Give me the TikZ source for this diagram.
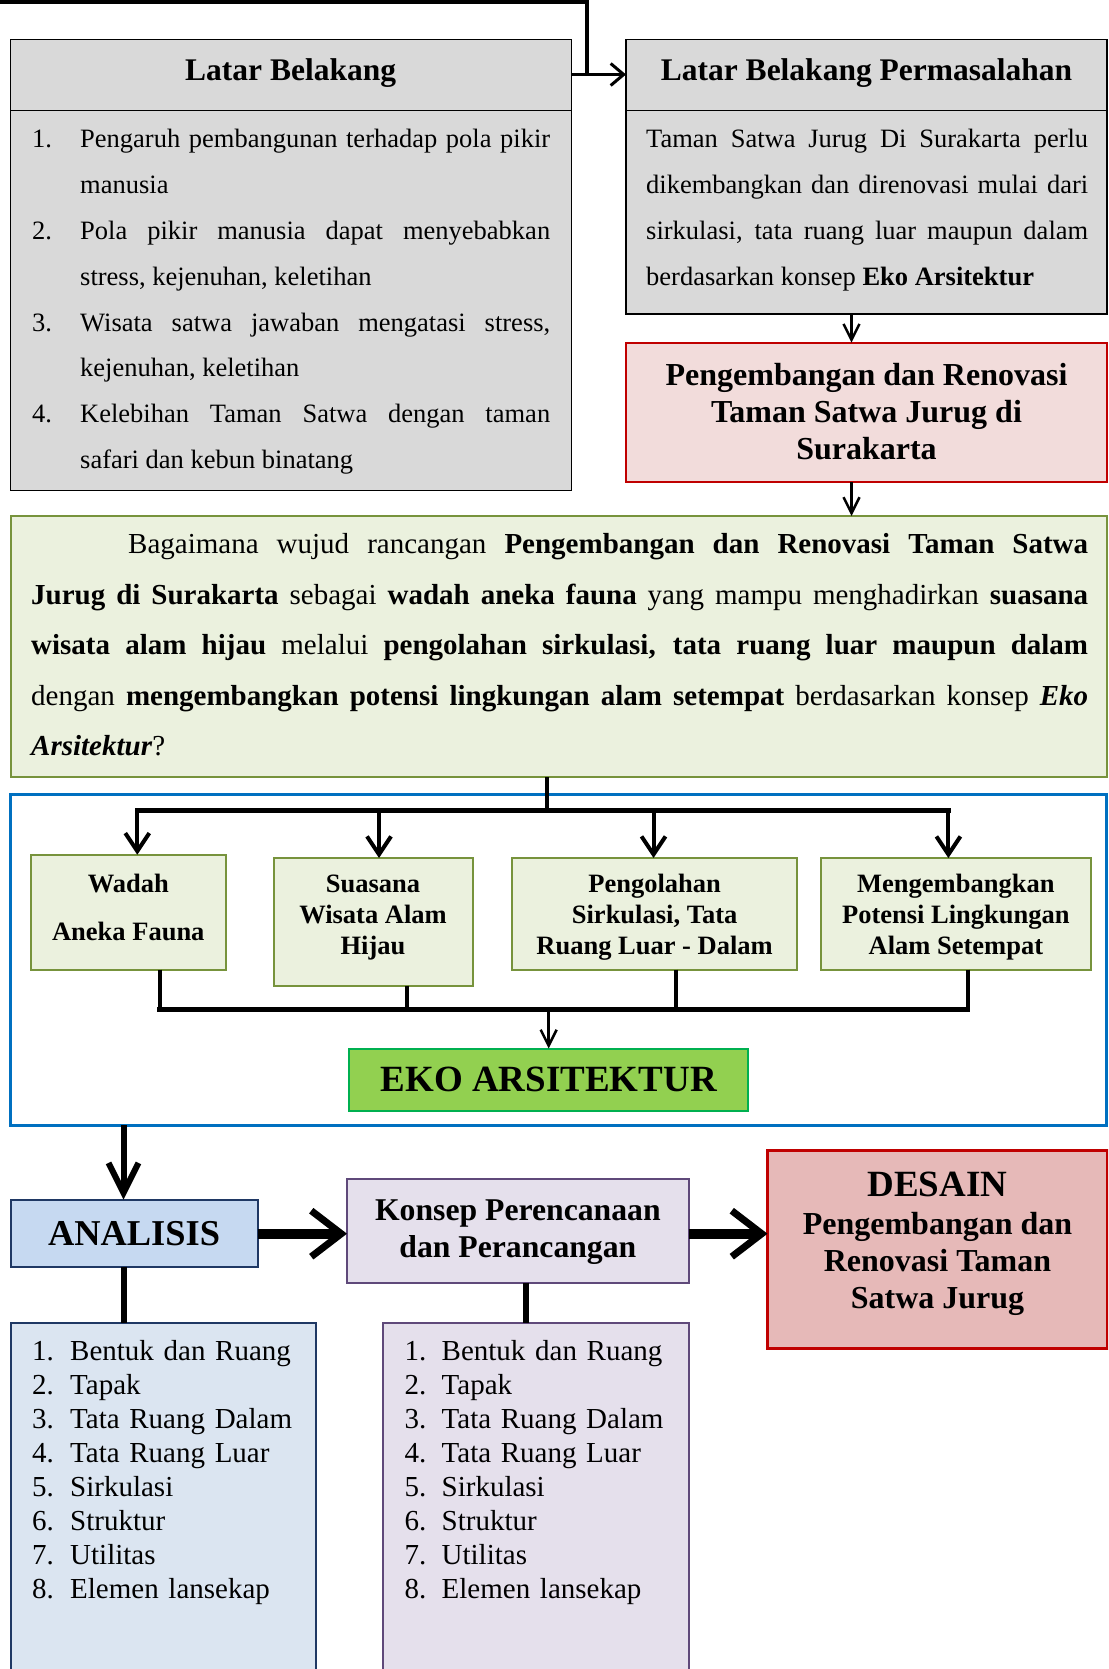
\documentclass[tikz,border=0pt]{standalone}
\usepackage{fontspec}
\setmainfont{Liberation Serif}
\usetikzlibrary{arrows.meta}
\definecolor{gfill}{HTML}{D9D9D9}
\definecolor{pfill}{HTML}{F2DCDB}
\definecolor{redb}{HTML}{C00000}
\definecolor{lgreen}{HTML}{EBF1DE}
\definecolor{oliveb}{HTML}{77933C}
\definecolor{frameblue}{HTML}{0070C0}
\definecolor{ekofill}{HTML}{92D050}
\definecolor{ekob}{HTML}{00B050}
\definecolor{anafill}{HTML}{C6D9F1}
\definecolor{anab}{HTML}{1F3864}
\definecolor{alfill}{HTML}{DBE5F1}
\definecolor{konfill}{HTML}{E5E0EC}
\definecolor{konb}{HTML}{5F497A}
\definecolor{desfill}{HTML}{E6B9B8}
\begin{document}
\begin{tikzpicture}[x=1pt,y=-1pt,
  box/.style={draw, inner sep=0pt, outer sep=0pt, anchor=north west, align=center},
  para/.style={anchor=base west, inner sep=0pt, align=justify},
  arr/.style={line width=3pt, -{Straight Barb[length=13pt,width=22pt]}},
  busarr/.style={line width=4pt, -{Straight Barb[length=18pt,width=24pt]}},
  thinarr/.style={line width=2.5pt, -{Straight Barb[length=16pt,width=16pt]}},
  bus/.style={line width=5pt, line cap=rect},
  stem/.style={line width=6pt},
  bigarr/.style={line width=10pt, -{Straight Barb[length=30pt,width=46pt,line width=7pt]}},
  smallbox/.style={box, fill=lgreen, draw=oliveb, line width=2pt, font=\fontsize{26.5}{31}\selectfont\bfseries},
  listtext/.style={anchor=base west, inner sep=0pt, align=left, text width=280pt, font=\fontsize{29}{34}\selectfont}
]
\useasboundingbox (0,0) rectangle (1108,1669);
\clip (0,0) rectangle (1108,1669);

% ---------- top row ----------
\node[box, fill=gfill, line width=1.5pt, minimum width=561pt, minimum height=451.3pt] (LB) at (10.6,39.4) {};
\draw[line width=1.5pt] (10.6,110.7) -- (571.6,110.7);
\node[font=\fontsize{31.5}{36}\selectfont\bfseries] (LBh) at (290.6,73) {Latar Belakang};
\node[para, text width=518pt, font=\fontsize{26.5}{45.8}\selectfont] (LBt) at (32,148) {%
\hangindent=48pt\hangafter=1\makebox[48pt][l]{1.}Pengaruh pembangunan terhadap pola pikir\linebreak manusia\par
\hangindent=48pt\hangafter=1\noindent\makebox[48pt][l]{2.}Pola pikir manusia dapat menyebabkan\linebreak stress, kejenuhan, keletihan\par
\hangindent=48pt\hangafter=1\noindent\makebox[48pt][l]{3.}Wisata satwa jawaban mengatasi stress,\linebreak kejenuhan, keletihan\par
\hangindent=48pt\hangafter=1\noindent\makebox[48pt][l]{4.}Kelebihan Taman Satwa dengan taman\linebreak safari dan kebun binatang\par};

\node[box, fill=gfill, line width=1.5pt, minimum width=481pt, minimum height=274.6pt] (LBP) at (626,39.4) {};
\draw[line width=1.5pt] (626,110.7) -- (1107,110.7);
\node[font=\fontsize{31.5}{36}\selectfont\bfseries] (LBPh) at (866.5,73) {Latar Belakang Permasalahan};
\node[para, text width=442pt, font=\fontsize{26.5}{45.8}\selectfont] (LBPt) at (646,148) {%
Taman Satwa Jurug Di Surakarta perlu\linebreak dikembangkan dan direnovasi mulai dari\linebreak sirkulasi, tata ruang luar maupun dalam\linebreak berdasarkan konsep \textbf{Eko Arsitektur}};

% top connector
\coordinate (t0) at (0,2);
\coordinate (t1) at (587,2);
\coordinate (j1) at (587,74.5);
\draw[line width=4pt] (t0) -- (t1) -- (j1);
\draw[arr] (LB.north east |- j1) -- (LBP.north west |- j1);

% ---------- pengembangan ----------
\node[box, fill=pfill, draw=redb, line width=2pt, minimum width=481pt, minimum height=139.3pt,
      font=\fontsize{32}{36.6}\selectfont\bfseries, text depth=2pt] (PR) at (626,342.7)
  {Pengembangan dan Renovasi\\Taman Satwa Jurug di\\Surakarta};
\coordinate (ax) at (851.5,0);
\draw[thinarr] (LBP.south -| ax) -- (PR.north -| ax);

% ---------- question ----------
\node[box, fill=lgreen, draw=oliveb, line width=2pt, minimum width=1096.4pt, minimum height=261pt] (Q) at (10.6,516) {};
\draw[thinarr] (PR.south -| ax) -- (Q.north -| ax);
\node[para, text width=1057pt, font=\fontsize{29}{50.6}\selectfont] (Qt) at (31,553.5) {%
\hspace*{97pt}Bagaimana wujud rancangan \textbf{Pengembangan dan Renovasi Taman Satwa}\linebreak
\textbf{Jurug di Surakarta} sebagai \textbf{wadah aneka fauna} yang mampu menghadirkan \textbf{suasana}\linebreak
\textbf{wisata alam hijau} melalui \textbf{pengolahan sirkulasi, tata ruang luar maupun dalam}\linebreak
dengan \textbf{mengembangkan potensi lingkungan alam setempat} berdasarkan konsep \textbf{\textit{Eko}}\linebreak
\textbf{\textit{Arsitektur}}?};

% ---------- framed section ----------
\node[box, draw=frameblue, line width=3pt, minimum width=1096pt, minimum height=331pt] (F) at (10.6,794) {};

\node[smallbox, minimum width=194.8pt, minimum height=115pt] (W) at (30.9,854.7) {};
\node[font=\fontsize{26.5}{31}\selectfont\bfseries, align=center] (Wt) at (128.3,907) {Wadah\\[17pt]Aneka Fauna};
\node[smallbox, minimum width=199pt, minimum height=127.6pt] (S) at (273.5,858) {};
\node[font=\fontsize{26.5}{31}\selectfont\bfseries, align=center] (St) at (373,918) {Suasana\\Wisata Alam\\Hijau};
\node[smallbox, minimum width=285.2pt, minimum height=111.7pt, text depth=0pt] (P) at (512,858) {Pengolahan\\Sirkulasi, Tata\\Ruang Luar - Dalam};
\node[smallbox, minimum width=270.3pt, minimum height=111.7pt, text depth=0pt] (M) at (820.7,858) {Mengembangkan\\Potensi Lingkungan\\Alam Setempat};

\node[box, fill=ekofill, draw=ekob, line width=2pt, minimum width=399.3pt, minimum height=62.5pt,
      font=\fontsize{37}{40}\selectfont\bfseries] (E) at (349,1048.5) {EKO ARSITEKTUR};

% top bus
\coordinate (bt) at (547,810);
\coordinate (b1) at (137.3,810);
\coordinate (b2) at (379,810);
\coordinate (b3) at (653.5,810);
\coordinate (b4) at (948.4,810);
\draw[line width=4pt] (Q.south -| bt) -- (bt);
\draw[bus] (b1) -- (b4);
\draw[busarr] (b1) -- (b1 |- W.north);
\draw[busarr] (b2) -- (b2 |- S.north);
\draw[busarr] (b3) -- (b3 |- P.north);
\draw[busarr] (b4) -- (b4 |- M.north);

% bottom bus
\coordinate (c1) at (159.7,1009);
\coordinate (c2) at (406.6,1009);
\coordinate (c3) at (676,1009);
\coordinate (c4) at (967.6,1009);
\draw[line width=4pt] (c1 |- W.south) -- (c1);
\draw[line width=4pt] (c2 |- S.south) -- (c2);
\draw[line width=4pt] (c3 |- P.south) -- (c3);
\draw[line width=4pt] (c4 |- M.south) -- (c4);
\draw[bus] (c1) -- (c4);
\draw[line width=2.5pt, -{Straight Barb[length=16pt,width=16pt]}] (E.north |- c1) -- (E.north);

% ---------- bottom ----------
\node[box, fill=anafill, draw=anab, line width=2pt, minimum width=247pt, minimum height=67.1pt,
      font=\fontsize{36.4}{40}\selectfont\bfseries] (A) at (10.6,1199.6) {ANALISIS};
\node[box, fill=konfill, draw=konb, line width=2pt, minimum width=341.7pt, minimum height=103.6pt,
      font=\fontsize{31.7}{37.5}\selectfont\bfseries, text depth=4pt] (K) at (347,1179) {Konsep Perencanaan\\dan Perancangan};
\node[box, fill=desfill, draw=redb, line width=3pt, minimum width=339.5pt, minimum height=198pt] (D) at (767.5,1150.6) {};
\node[font=\fontsize{37}{40}\selectfont\bfseries] (Dt) at (937.5,1184) {DESAIN};
\node[font=\fontsize{32}{37.3}\selectfont\bfseries, align=center] (Db) at (937.5,1264) {Pengembangan dan\\Renovasi Taman\\Satwa Jurug};

\coordinate (va) at (123.5,0);
\draw[line width=6pt, -{Straight Barb[length=30pt,width=30pt]}] (F.south -| va) -- (A.north -| va);

\coordinate (h1) at (0,1233.7);
\draw[bigarr] (A.east |- h1) -- (K.west |- h1);
\draw[bigarr] (K.east |- h1) -- (D.west |- h1);

\node[box, fill=alfill, draw=anab, line width=2pt, minimum width=305.4pt, minimum height=360pt] (AL) at (10.6,1323) {};
\node[box, fill=konfill, draw=konb, line width=2pt, minimum width=305.7pt, minimum height=360pt] (KL) at (383,1323) {};
\draw[stem] (A.south -| va) -- (AL.north -| va);
\coordinate (vk) at (525.8,0);
\draw[stem] (K.south -| vk) -- (KL.north -| vk);

\node[listtext] (ALt) at (32,1360.5) {%
\makebox[38pt][l]{1.}Bentuk dan Ruang\\
\makebox[38pt][l]{2.}Tapak\\
\makebox[38pt][l]{3.}Tata Ruang Dalam\\
\makebox[38pt][l]{4.}Tata Ruang Luar\\
\makebox[38pt][l]{5.}Sirkulasi\\
\makebox[38pt][l]{6.}Struktur\\
\makebox[38pt][l]{7.}Utilitas\\
\makebox[38pt][l]{8.}Elemen lansekap};
\node[listtext] (KLt) at (404.5,1360.5) {%
\makebox[37pt][l]{1.}Bentuk dan Ruang\\
\makebox[37pt][l]{2.}Tapak\\
\makebox[37pt][l]{3.}Tata Ruang Dalam\\
\makebox[37pt][l]{4.}Tata Ruang Luar\\
\makebox[37pt][l]{5.}Sirkulasi\\
\makebox[37pt][l]{6.}Struktur\\
\makebox[37pt][l]{7.}Utilitas\\
\makebox[37pt][l]{8.}Elemen lansekap};
\end{tikzpicture}
\end{document}
